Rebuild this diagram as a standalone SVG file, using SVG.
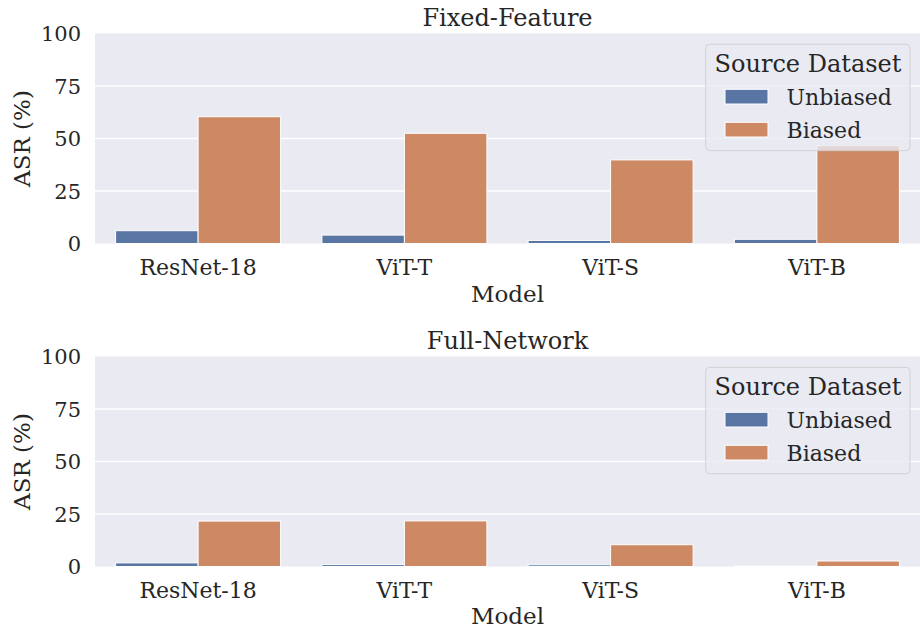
<svg xmlns="http://www.w3.org/2000/svg" width="920" height="627" viewBox="0 0 920 627">
<style>
text{font-family:"DejaVu Serif",serif;fill:#262626}
.bg{fill:#EAEAF2}
.grid{stroke:#fff;stroke-width:1.4}
.u{fill:#5975A4;stroke:#fff;stroke-width:1}
.b{fill:#CC8963;stroke:#fff;stroke-width:1}
.yt{font-size:21px;text-anchor:end}
.xt{font-size:22px;text-anchor:middle}
.lab{font-size:23px;text-anchor:middle}
.ttl{font-size:24px;text-anchor:middle}
.leg{fill:#EAEAF2;fill-opacity:0.8;stroke:#CCCCCC;stroke-opacity:0.8;stroke-width:1}
.lt{font-size:22px}
.lh{font-size:24px;text-anchor:middle}
</style>
<g id="panel-top">
<rect class="bg" x="95" y="33.5" width="825" height="210"/>
<line class="grid" x1="95" x2="920" y1="191" y2="191"/>
<line class="grid" x1="95" x2="920" y1="138.5" y2="138.5"/>
<line class="grid" x1="95" x2="920" y1="86" y2="86"/>
<rect class="u" x="115.6" y="230.7" width="82.5" height="12.8"/>
<rect class="b" x="198.1" y="116.7" width="82.5" height="126.8"/>
<rect class="u" x="321.9" y="235.1" width="82.5" height="8.4"/>
<rect class="b" x="404.4" y="133.3" width="82.5" height="110.2"/>
<rect class="u" x="528.1" y="240.4" width="82.5" height="3.1"/>
<rect class="b" x="610.6" y="159.9" width="82.5" height="83.6"/>
<rect class="u" x="734.4" y="239.3" width="82.5" height="4.2"/>
<rect class="b" x="816.9" y="145.6" width="82.5" height="97.9"/>
<text class="yt" x="81" y="251">0</text>
<text class="yt" x="81" y="198.5">25</text>
<text class="yt" x="81" y="146">50</text>
<text class="yt" x="81" y="93.5">75</text>
<text class="yt" x="81" y="41">100</text>
<text class="xt" x="198.1" y="275">ResNet-18</text>
<text class="xt" x="404.4" y="275">ViT-T</text>
<text class="xt" x="610.6" y="275">ViT-S</text>
<text class="xt" x="816.9" y="275">ViT-B</text>
<text class="lab" x="507.5" y="302">Model</text>
<text class="lab" transform="translate(30,138.5) rotate(-90)">ASR (%)</text>
<text class="ttl" x="507.5" y="25.5">Fixed-Feature</text>
<g id="legend-top">
<rect class="leg" x="705.7" y="44.3" width="204.3" height="106.4" rx="4"/>
<text class="lh" x="808" y="71.5">Source Dataset</text>
<rect class="u" x="725" y="89.3" width="43" height="14.7"/>
<rect class="b" x="725" y="122.3" width="43" height="14.7"/>
<text class="lt" x="786.5" y="104.5">Unbiased</text>
<text class="lt" x="786.5" y="137.5">Biased</text>
</g>
</g>
<g id="panel-bottom" transform="translate(0,323)">
<rect class="bg" x="95" y="33.5" width="825" height="210"/>
<line class="grid" x1="95" x2="920" y1="191" y2="191"/>
<line class="grid" x1="95" x2="920" y1="138.5" y2="138.5"/>
<line class="grid" x1="95" x2="920" y1="86" y2="86"/>
<rect class="u" x="115.6" y="239.9" width="82.5" height="3.6"/>
<rect class="b" x="198.1" y="198.1" width="82.5" height="45.4"/>
<rect class="u" x="321.9" y="241.6" width="82.5" height="1.9"/>
<rect class="b" x="404.4" y="197.9" width="82.5" height="45.6"/>
<rect class="u" x="528.1" y="241.8" width="82.5" height="1.7"/>
<rect class="b" x="610.6" y="221.7" width="82.5" height="21.8"/>
<rect class="u" x="734.4" y="242.9" width="82.5" height="0.6"/>
<rect class="b" x="816.9" y="238" width="82.5" height="5.5"/>
<text class="yt" x="81" y="251">0</text>
<text class="yt" x="81" y="198.5">25</text>
<text class="yt" x="81" y="146">50</text>
<text class="yt" x="81" y="93.5">75</text>
<text class="yt" x="81" y="41">100</text>
<text class="xt" x="198.1" y="275">ResNet-18</text>
<text class="xt" x="404.4" y="275">ViT-T</text>
<text class="xt" x="610.6" y="275">ViT-S</text>
<text class="xt" x="816.9" y="275">ViT-B</text>
<text class="lab" x="507.5" y="301">Model</text>
<text class="lab" transform="translate(30,138.5) rotate(-90)">ASR (%)</text>
<text class="ttl" x="507.5" y="25.5">Full-Network</text>
<g id="legend-bottom">
<rect class="leg" x="705.7" y="44.3" width="204.3" height="106.4" rx="4"/>
<text class="lh" x="808" y="71.5">Source Dataset</text>
<rect class="u" x="725" y="89.3" width="43" height="14.7"/>
<rect class="b" x="725" y="122.3" width="43" height="14.7"/>
<text class="lt" x="786.5" y="104.5">Unbiased</text>
<text class="lt" x="786.5" y="137.5">Biased</text>
</g>
</g>
</svg>
